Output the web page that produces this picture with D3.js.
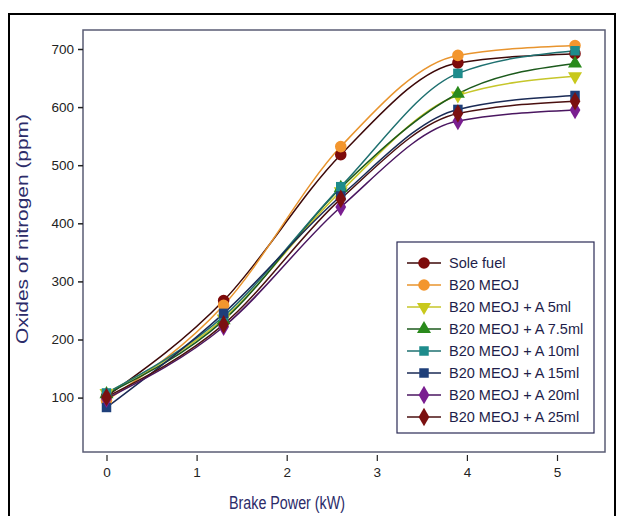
<!DOCTYPE html>
<html><head><meta charset="utf-8">
<script src="https://cdn.jsdelivr.net/npm/d3@7/dist/d3.min.js"></script>
<style>body{margin:0;background:#fff;} svg{display:block;font-family:"Liberation Sans",Arial,sans-serif;}</style>
</head><body>
<svg id="c" width="624" height="516"></svg>
<script>
const xValues = [0, 1.3, 2.6, 3.9, 5.2];
const seriesNames = ["Sole fuel","B20 MEOJ","B20 MEOJ + A 5ml","B20 MEOJ + A 7.5ml","B20 MEOJ + A 10ml","B20 MEOJ + A 15ml","B20 MEOJ + A 20ml","B20 MEOJ + A 25ml"];
const soleFuel = [102, 267, 518, 676, 692];
const b20 = [95, 259, 532, 689, 706];
const a5 = [108, 236, 455, 620, 653];
const a75 = [106, 233, 461, 623, 675];
const a10 = [108, 240, 463, 658, 697];
const a15 = [83, 245, 447, 596, 620];
const a20 = [98, 222, 428, 576, 595];
const a25 = [101, 226, 442, 589, 610];
const xTicks = [0,1,2,3,4,5];
const yTicks = [100,200,300,400,500,600,700];

const seriesValues = [soleFuel, b20, a5, a75, a10, a15, a20, a25];
const styles = [
  {line:"#3d0808", fill:"#7d0a0a", sym:d3.symbolCircle, size:105, rot:0},
  {line:"#e8942e", fill:"#f3962e", sym:d3.symbolCircle, size:105, rot:0},
  {line:"#c6c62a", fill:"#c8c81c", sym:d3.symbolTriangle, size:85, rot:180},
  {line:"#1c5a1c", fill:"#2a8a1c", sym:d3.symbolTriangle, size:85, rot:0},
  {line:"#1e7070", fill:"#1e8c8c", sym:d3.symbolSquare, size:90, rot:0},
  {line:"#1a2a55", fill:"#1e3f7a", sym:d3.symbolSquare, size:90, rot:0},
  {line:"#4a1660", fill:"#7a1e90", sym:d3.symbolDiamond, size:100, rot:0},
  {line:"#4a1010", fill:"#7b1010", sym:d3.symbolDiamond, size:100, rot:0}
];

const svg = d3.select("#c");
svg.append("rect").attr("x",9).attr("y",14).attr("width",606).attr("height",510)
  .attr("fill","none").attr("stroke","#000").attr("stroke-width",2);

const x = d3.scaleLinear().domain([0,5]).range([106.5,557]);
const y = d3.scaleLinear().domain([100,700]).range([397.6,49]);

const L=83,T=30,R=605,B=452;
svg.append("rect").attr("x",L).attr("y",T).attr("width",R-L).attr("height",B-T)
  .attr("fill","none").attr("stroke","#5a5c74").attr("stroke-width",1.5);

const yAxis = d3.axisLeft(y).tickValues(yTicks).tickSize(5).tickPadding(4).tickFormat(d3.format("d"));
const gy = svg.append("g").attr("transform",`translate(${L},0)`).call(yAxis);
gy.select(".domain").remove();
gy.selectAll("line").attr("stroke","#222").attr("stroke-width",1.5);
gy.selectAll("text").attr("font-size",13.5).attr("fill","#222").attr("font-family","Liberation Sans, Arial, sans-serif");

const xAxis = d3.axisBottom(x).tickValues(xTicks).tickSize(6).tickPadding(6).tickFormat(d3.format("d"));
const gx = svg.append("g").attr("transform",`translate(0,${B+3})`).call(xAxis);
gx.select(".domain").remove();
gx.selectAll("line").attr("stroke","#222").attr("stroke-width",1.2);
gx.selectAll("text").attr("font-size",13.5).attr("fill","#222").attr("font-family","Liberation Sans, Arial, sans-serif");

svg.append("text").attr("transform","translate(28,229) rotate(-90)").attr("text-anchor","middle")
  .attr("font-size",17).attr("textLength",230).attr("lengthAdjust","spacingAndGlyphs")
  .attr("fill","#2c2c6a").text("Oxides of nitrogen (ppm)");
svg.append("text").attr("x",287).attr("y",509).attr("text-anchor","middle")
  .attr("font-size",17.5).attr("textLength",116).attr("lengthAdjust","spacingAndGlyphs")
  .attr("fill","#2c2c6a").text("Brake Power (kW)");

const line = d3.line().x((d,i)=>x(xValues[i])).y(d=>y(d)).curve(d3.curveMonotoneX);

seriesValues.forEach((vals,k)=>{
  const s = styles[k];
  svg.append("path").datum(vals).attr("d",line).attr("fill","none")
    .attr("stroke",s.line).attr("stroke-width",1.5);
});
seriesValues.forEach((vals,k)=>{
  const s = styles[k];
  svg.append("g").selectAll("path").data(vals).join("path")
    .attr("d",d3.symbol().type(s.sym).size(s.size))
    .attr("transform",(d,i)=>`translate(${x(xValues[i])},${y(d)}) rotate(${s.rot})`)
    .attr("fill",s.fill);
});

const lg = svg.append("g");
lg.append("rect").attr("x",397).attr("y",242).attr("width",197).attr("height",191)
  .attr("fill","#fff").attr("stroke","#2a2a55").attr("stroke-width",1.2);
seriesNames.forEach((n,k)=>{
  const s = styles[k];
  const yy = 263 + k*22;
  lg.append("line").attr("x1",407).attr("x2",441).attr("y1",yy).attr("y2",yy)
    .attr("stroke",s.line).attr("stroke-width",1.6);
  lg.append("path").attr("d",d3.symbol().type(s.sym).size(s.size))
    .attr("transform",`translate(424,${yy}) rotate(${s.rot})`).attr("fill",s.fill);
  lg.append("text").attr("x",449).attr("y",yy).attr("dy","0.36em")
    .attr("font-size",14.5).attr("fill","#1e1e4a").text(n);
});
</script>
</body></html>
